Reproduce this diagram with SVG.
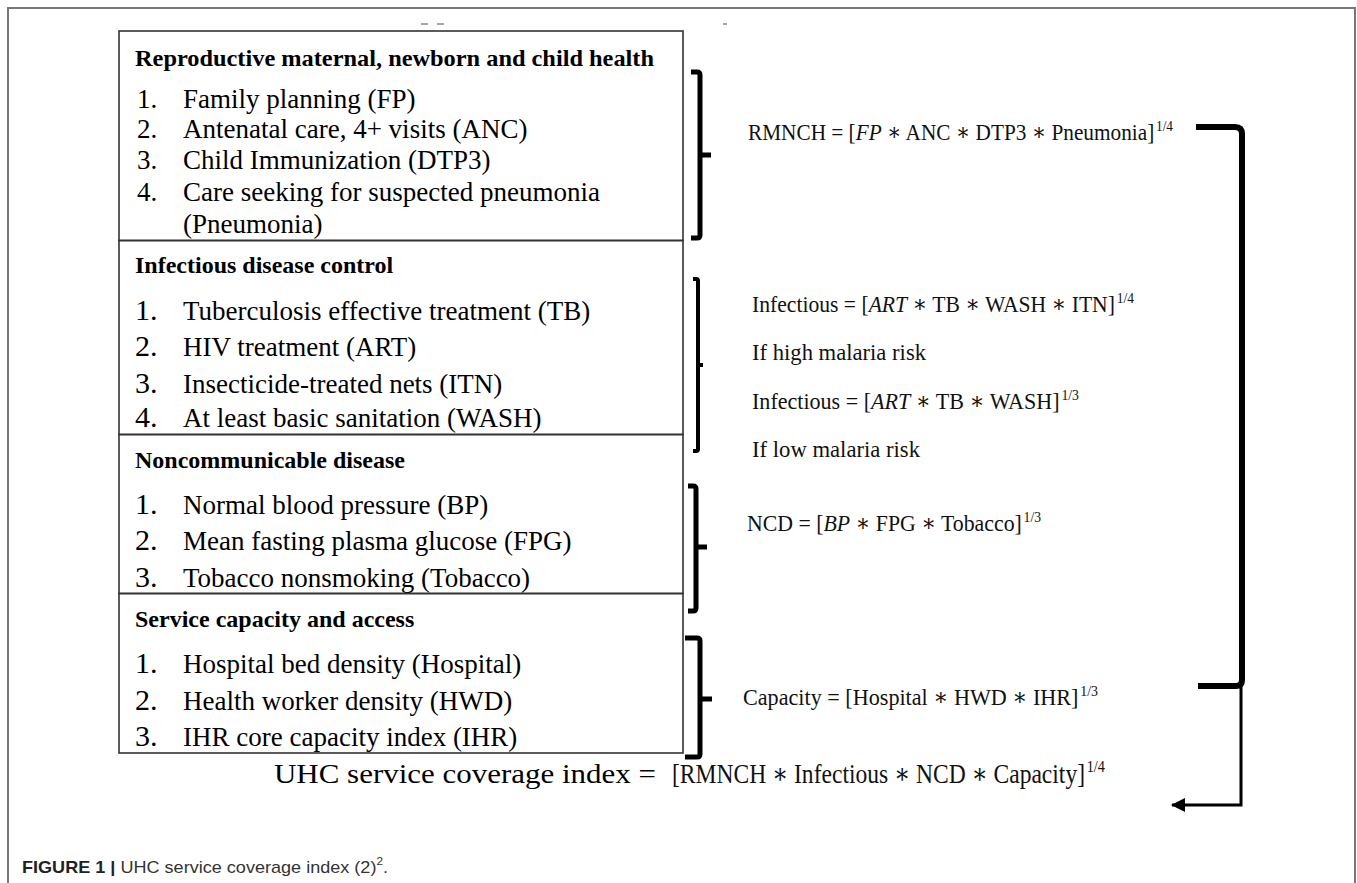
<svg xmlns="http://www.w3.org/2000/svg" width="1357" height="883" viewBox="0 0 1357 883">
<style>
.frame{stroke:#777;stroke-width:2;fill:none}
.box{fill:none;stroke:#333;stroke-width:1.6}
.t{font-family:"Liberation Serif","Times New Roman",serif;fill:#000}
.h{font-weight:bold;font-size:24px}
.i{font-size:27px}
.n{font-size:30px}
.f{font-family:"Liberation Serif","DejaVu Serif",serif;font-size:24px;fill:#111}
.sp{font-size:15px}
.br{fill:none;stroke:#000;stroke-width:5;stroke-linejoin:round}
.ar{fill:none;stroke:#000;stroke-width:3}
.cap{font-family:"Liberation Sans",Arial,sans-serif;font-size:17px;fill:#333}
</style>
<defs>
<marker id="ah" markerWidth="16" markerHeight="16" refX="13" refY="7" orient="auto" markerUnits="userSpaceOnUse">
<path d="M0,0 L14,7 L0,14 Z" fill="#000"/>
</marker>
</defs>
<rect width="1357" height="883" fill="#fff"/>
<path class="frame" d="M8,883 V8 H1355 V883"/>
<g stroke="#888" stroke-width="1.5">
<line x1="421" y1="24" x2="428" y2="24"/>
<line x1="437" y1="24" x2="444" y2="24"/>
<line x1="723" y1="24" x2="727" y2="24"/>
</g>

<g id="box-rmnch">
<rect class="box" x="119" y="31" width="564" height="209.5"/>
<text class="t h" x="135" y="66" textLength="519" lengthAdjust="spacingAndGlyphs">Reproductive maternal, newborn and child health</text>
<text class="t i" x="137" y="108">1.</text><text class="t i" x="183" y="108">Family planning (FP)</text>
<text class="t i" x="137" y="138">2.</text><text class="t i" x="183" y="138">Antenatal care, 4+ visits (ANC)</text>
<text class="t i" x="137" y="169">3.</text><text class="t i" x="183" y="169">Child Immunization (DTP3)</text>
<text class="t i" x="137" y="201">4.</text><text class="t i" x="183" y="201">Care seeking for suspected pneumonia</text>
<text class="t i" x="183" y="233">(Pneumonia)</text>
</g>

<g id="box-infectious">
<rect class="box" x="119" y="240.5" width="564" height="194"/>
<text class="t h" x="135" y="273">Infectious disease control</text>
<text class="t n" x="135" y="320">1.</text><text class="t i" x="183" y="320">Tuberculosis effective treatment (TB)</text>
<text class="t n" x="135" y="356">2.</text><text class="t i" x="183" y="356">HIV treatment (ART)</text>
<text class="t n" x="135" y="393">3.</text><text class="t i" x="183" y="393">Insecticide-treated nets (ITN)</text>
<text class="t n" x="135" y="427">4.</text><text class="t i" x="183" y="427">At least basic sanitation (WASH)</text>
</g>

<g id="box-ncd">
<rect class="box" x="119" y="434.5" width="564" height="159"/>
<text class="t h" x="135" y="468">Noncommunicable disease</text>
<text class="t n" x="135" y="514">1.</text><text class="t i" x="183" y="514">Normal blood pressure (BP)</text>
<text class="t n" x="135" y="550">2.</text><text class="t i" x="183" y="550">Mean fasting plasma glucose (FPG)</text>
<text class="t n" x="135" y="587">3.</text><text class="t i" x="183" y="587">Tobacco nonsmoking (Tobacco)</text>
</g>

<g id="box-capacity">
<rect class="box" x="119" y="593.5" width="564" height="159.5"/>
<text class="t h" x="135" y="627">Service capacity and access</text>
<text class="t n" x="135" y="673">1.</text><text class="t i" x="183" y="673">Hospital bed density (Hospital)</text>
<text class="t n" x="135" y="710">2.</text><text class="t i" x="183" y="710">Health worker density (HWD)</text>
<text class="t n" x="135" y="746">3.</text><text class="t i" x="183" y="746">IHR core capacity index (IHR)</text>
</g>

<g id="connectors">
<path class="br" d="M691,72 H697 Q700,72 700,75 V235 Q700,238 697,238 H691 M700,155 H711"/>
<path class="br" style="stroke-width:4" d="M693,279 H696 Q698,279 698,281 V449 Q698,451 696,451 H693 M698,365 H703"/>
<path class="br" d="M688,486 H693 Q696,486 696,489 V608 Q696,611 693,611 H688 M696,547 H707"/>
<path class="br" d="M685,638 H697 Q700,638 700,641 V754 Q700,757 697,757 H685 M700,699 H712"/>
<path class="br" style="stroke-width:6" d="M1196,127 H1235 Q1242,127 1242,134 V680 Q1242,686 1236,686 H1198"/>
<path class="ar" d="M1241,686 V805 H1172" marker-end="url(#ah)"/>
</g>

<g id="formula-rmnch">
<text class="f" x="748" y="140" textLength="425" lengthAdjust="spacingAndGlyphs">RMNCH = [<tspan font-style="italic">FP</tspan> ∗ ANC ∗ DTP3 ∗ Pneumonia]<tspan class="sp" dx="2" dy="-9">1/4</tspan></text>
</g>
<g id="formula-infectious">
<text class="f" x="752" y="312" textLength="382" lengthAdjust="spacingAndGlyphs">Infectious = [<tspan font-style="italic">ART</tspan> ∗ TB ∗ WASH ∗ ITN]<tspan class="sp" dx="2" dy="-9">1/4</tspan></text>
<text class="f" x="752" y="360" textLength="174" lengthAdjust="spacingAndGlyphs">If high malaria risk</text>
<text class="f" x="752" y="409" textLength="327" lengthAdjust="spacingAndGlyphs">Infectious = [<tspan font-style="italic">ART</tspan> ∗ TB ∗ WASH]<tspan class="sp" dx="2" dy="-9">1/3</tspan></text>
<text class="f" x="752" y="457" textLength="168" lengthAdjust="spacingAndGlyphs">If low malaria risk</text>
</g>
<g id="formula-ncd">
<text class="f" x="747" y="531" textLength="294" lengthAdjust="spacingAndGlyphs">NCD = [<tspan font-style="italic">BP</tspan> ∗ FPG ∗ Tobacco]<tspan class="sp" dx="2" dy="-9">1/3</tspan></text>
</g>
<g id="formula-capacity">
<text class="f" x="743" y="705" textLength="355" lengthAdjust="spacingAndGlyphs">Capacity = [Hospital ∗ HWD ∗ IHR]<tspan class="sp" dx="2" dy="-9">1/3</tspan></text>
</g>
<g id="formula-uhc">
<text class="t" style="font-size:28px" x="274" y="783" textLength="382" lengthAdjust="spacingAndGlyphs">UHC service coverage index =</text>
<text class="f" style="font-size:28px" x="672" y="783" textLength="433" lengthAdjust="spacingAndGlyphs">[RMNCH ∗ Infectious ∗ NCD ∗ Capacity]<tspan style="font-size:17px" dx="2" dy="-11">1/4</tspan></text>
</g>

<g id="caption">
<text class="cap" x="22" y="873" textLength="366" lengthAdjust="spacingAndGlyphs"><tspan font-weight="bold" fill="#222">FIGURE 1 |</tspan> UHC service coverage index (2)<tspan style="font-size:11px" dy="-8">2</tspan><tspan dy="8">.</tspan></text>
</g>
</svg>
